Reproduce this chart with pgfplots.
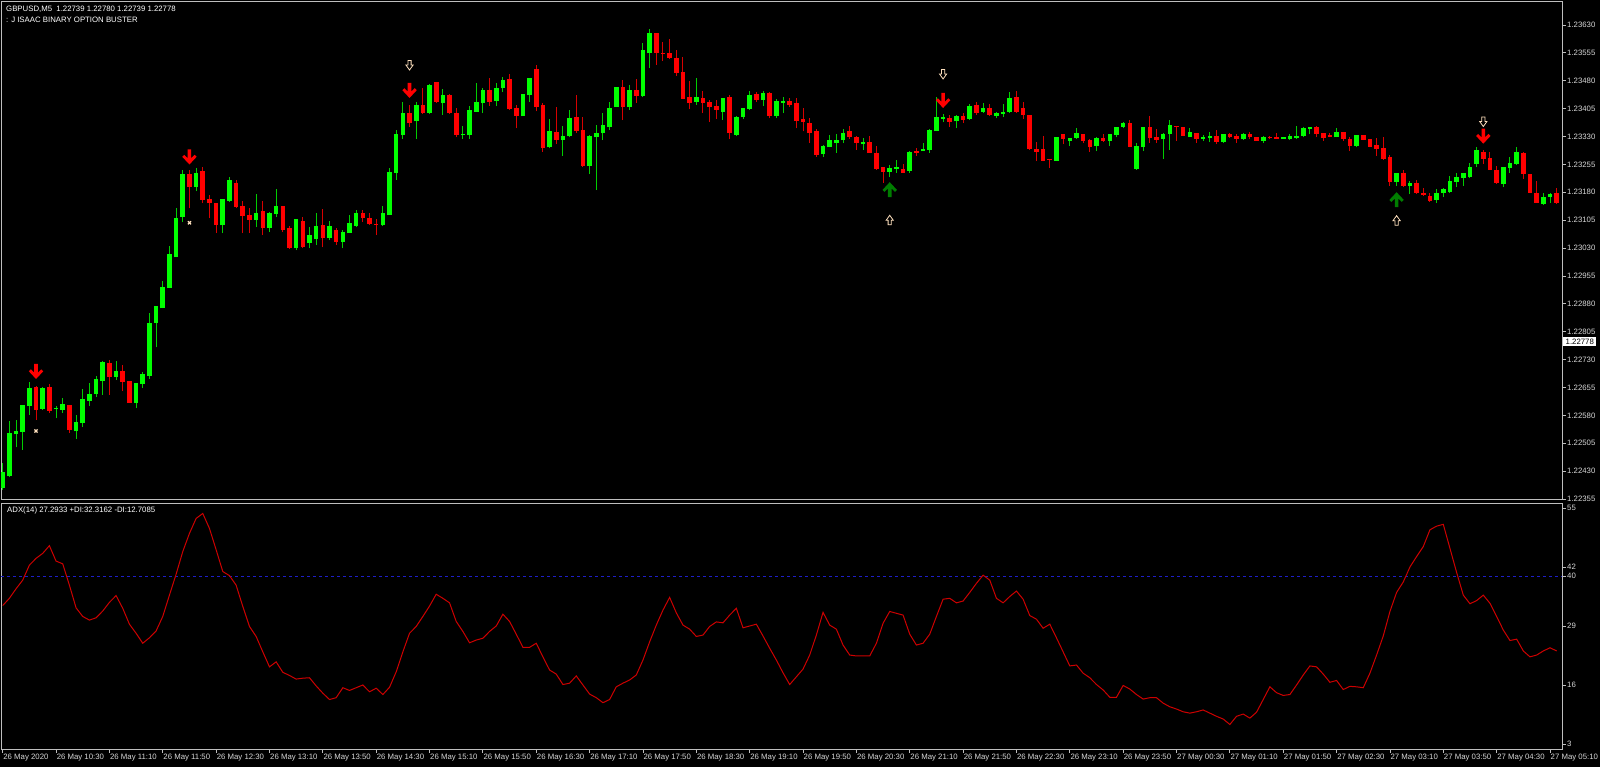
\documentclass[border=0pt]{standalone}
\usepackage{fontspec}
\setmainfont{Liberation Sans}
\usepackage{pgfplots}
\pgfplotsset{compat=1.18}
\usepackage{pgfplotstable}
\definecolor{bull}{RGB}{0,255,0}
\definecolor{bullw}{RGB}{0,205,0}
\definecolor{bear}{RGB}{255,0,0}
\definecolor{bearw}{RGB}{215,0,0}
\definecolor{framec}{RGB}{190,190,190}
\definecolor{txt}{RGB}{215,215,215}
\definecolor{adxc}{RGB}{205,0,0}
\definecolor{lvl}{RGB}{30,30,200}
\definecolor{sigup}{RGB}{0,125,0}
\definecolor{hollow}{RGB}{255,225,190}
\newcommand\mtfont{\fontsize{7.8bp}{11bp}\selectfont}
\pgfdeclareplotmark{dnarrow}{%
 \pgfpathmoveto{\pgfpoint{-1.8bp}{7.5bp}}%
 \pgfpathlineto{\pgfpoint{1.8bp}{7.5bp}}%
 \pgfpathlineto{\pgfpoint{1.8bp}{-1.2bp}}%
 \pgfpathlineto{\pgfpoint{5.2bp}{2.2bp}}%
 \pgfpathlineto{\pgfpoint{7.2bp}{0.2bp}}%
 \pgfpathlineto{\pgfpoint{0bp}{-7.5bp}}%
 \pgfpathlineto{\pgfpoint{-7.2bp}{0.2bp}}%
 \pgfpathlineto{\pgfpoint{-5.2bp}{2.2bp}}%
 \pgfpathlineto{\pgfpoint{-1.8bp}{-1.2bp}}%
 \pgfpathclose\pgfusepathqfill}
\pgfdeclareplotmark{uparrow}{%
 \pgfpathmoveto{\pgfpoint{-1.8bp}{-7.5bp}}%
 \pgfpathlineto{\pgfpoint{1.8bp}{-7.5bp}}%
 \pgfpathlineto{\pgfpoint{1.8bp}{1.2bp}}%
 \pgfpathlineto{\pgfpoint{5.2bp}{-2.2bp}}%
 \pgfpathlineto{\pgfpoint{7.2bp}{-0.2bp}}%
 \pgfpathlineto{\pgfpoint{0bp}{7.5bp}}%
 \pgfpathlineto{\pgfpoint{-7.2bp}{-0.2bp}}%
 \pgfpathlineto{\pgfpoint{-5.2bp}{-2.2bp}}%
 \pgfpathlineto{\pgfpoint{-1.8bp}{1.2bp}}%
 \pgfpathclose\pgfusepathqfill}
\pgfdeclareplotmark{hdn}{%
 \pgfpathmoveto{\pgfpoint{-1.6bp}{5bp}}%
 \pgfpathlineto{\pgfpoint{1.6bp}{5bp}}%
 \pgfpathlineto{\pgfpoint{1.6bp}{0.5bp}}%
 \pgfpathlineto{\pgfpoint{3.6bp}{0.5bp}}%
 \pgfpathlineto{\pgfpoint{0bp}{-4.5bp}}%
 \pgfpathlineto{\pgfpoint{-3.6bp}{0.5bp}}%
 \pgfpathlineto{\pgfpoint{-1.6bp}{0.5bp}}%
 \pgfpathclose\pgfusepathqstroke}
\pgfdeclareplotmark{hup}{%
 \pgfpathmoveto{\pgfpoint{-1.6bp}{-5bp}}%
 \pgfpathlineto{\pgfpoint{1.6bp}{-5bp}}%
 \pgfpathlineto{\pgfpoint{1.6bp}{-0.5bp}}%
 \pgfpathlineto{\pgfpoint{3.6bp}{-0.5bp}}%
 \pgfpathlineto{\pgfpoint{0bp}{4.5bp}}%
 \pgfpathlineto{\pgfpoint{-3.6bp}{-0.5bp}}%
 \pgfpathlineto{\pgfpoint{-1.6bp}{-0.5bp}}%
 \pgfpathclose\pgfusepathqstroke}

\pgfplotstableread{
i o h l c
0 1.22384 1.22452 1.22379 1.22428
1 1.22417 1.22564 1.22414 1.22532
2 1.22529 1.22567 1.22494 1.22537
3 1.22535 1.22608 1.22487 1.22608
4 1.22605 1.22670 1.22581 1.22653
5 1.22656 1.22659 1.22567 1.22594
6 1.22597 1.22656 1.22594 1.22653
7 1.22656 1.22664 1.22586 1.22591
8 1.22597 1.22605 1.22572 1.22599
9 1.22594 1.22626 1.22586 1.22610
10 1.22608 1.22608 1.22532 1.22540
11 1.22537 1.22581 1.22516 1.22562
12 1.22559 1.22651 1.22548 1.22624
13 1.22618 1.22667 1.22605 1.22637
14 1.22637 1.22686 1.22629 1.22678
15 1.22672 1.22726 1.22635 1.22724
16 1.22721 1.22729 1.22635 1.22683
17 1.22683 1.22726 1.22675 1.22699
18 1.22699 1.22716 1.22645 1.22670
19 1.22672 1.22672 1.22613 1.22613
20 1.22613 1.22667 1.22599 1.22667
21 1.22664 1.22697 1.22653 1.22691
22 1.22686 1.22855 1.22678 1.22828
23 1.22828 1.22874 1.22763 1.22874
24 1.22868 1.22941 1.22868 1.22925
25 1.22922 1.23035 1.22922 1.23013
26 1.23005 1.23137 1.23005 1.23110
27 1.23113 1.23240 1.23100 1.23229
28 1.23229 1.23240 1.23137 1.23194
29 1.23194 1.23245 1.23183 1.23232
30 1.23237 1.23248 1.23151 1.23159
31 1.23162 1.23173 1.23110 1.23151
32 1.23151 1.23151 1.23070 1.23092
33 1.23092 1.23162 1.23070 1.23162
34 1.23156 1.23221 1.23154 1.23213
35 1.23205 1.23213 1.23137 1.23140
36 1.23143 1.23156 1.23070 1.23116
37 1.23119 1.23137 1.23070 1.23105
38 1.23105 1.23175 1.23086 1.23124
39 1.23129 1.23156 1.23065 1.23083
40 1.23083 1.23127 1.23073 1.23124
41 1.23121 1.23189 1.23113 1.23143
42 1.23143 1.23143 1.23073 1.23078
43 1.23083 1.23089 1.23027 1.23029
44 1.23029 1.23108 1.23024 1.23108
45 1.23102 1.23113 1.23029 1.23032
46 1.23043 1.23086 1.23029 1.23065
47 1.23054 1.23124 1.23038 1.23089
48 1.23092 1.23135 1.23032 1.23056
49 1.23056 1.23102 1.23051 1.23089
50 1.23078 1.23083 1.23038 1.23046
51 1.23046 1.23078 1.23029 1.23073
52 1.23070 1.23119 1.23070 1.23097
53 1.23089 1.23132 1.23086 1.23124
54 1.23124 1.23132 1.23100 1.23110
55 1.23110 1.23124 1.23092 1.23094
56 1.23094 1.23108 1.23065 1.23092
57 1.23092 1.23143 1.23089 1.23124
58 1.23119 1.23245 1.23119 1.23235
59 1.23232 1.23347 1.23213 1.23336
60 1.23334 1.23423 1.23323 1.23393
61 1.23393 1.23415 1.23355 1.23366
62 1.23371 1.23423 1.23323 1.23415
63 1.23415 1.23460 1.23390 1.23393
64 1.23393 1.23471 1.23390 1.23469
65 1.23477 1.23477 1.23420 1.23423
66 1.23420 1.23458 1.23388 1.23442
67 1.23442 1.23444 1.23390 1.23393
68 1.23393 1.23406 1.23328 1.23334
69 1.23334 1.23358 1.23323 1.23336
70 1.23334 1.23412 1.23323 1.23401
71 1.23396 1.23474 1.23396 1.23423
72 1.23420 1.23460 1.23393 1.23455
73 1.23455 1.23487 1.23412 1.23423
74 1.23425 1.23474 1.23412 1.23460
75 1.23460 1.23490 1.23450 1.23482
76 1.23485 1.23498 1.23401 1.23404
77 1.23406 1.23415 1.23352 1.23385
78 1.23385 1.23444 1.23385 1.23444
79 1.23442 1.23487 1.23423 1.23487
80 1.23512 1.23523 1.23398 1.23409
81 1.23415 1.23420 1.23289 1.23298
82 1.23301 1.23377 1.23298 1.23344
83 1.23342 1.23409 1.23309 1.23320
84 1.23320 1.23358 1.23278 1.23331
85 1.23331 1.23401 1.23328 1.23379
86 1.23382 1.23442 1.23339 1.23344
87 1.23347 1.23382 1.23248 1.23251
88 1.23251 1.23334 1.23229 1.23331
89 1.23328 1.23361 1.23186 1.23339
90 1.23339 1.23393 1.23320 1.23361
91 1.23355 1.23423 1.23347 1.23406
92 1.23409 1.23463 1.23409 1.23463
93 1.23463 1.23482 1.23374 1.23409
94 1.23409 1.23469 1.23401 1.23455
95 1.23455 1.23485 1.23420 1.23439
96 1.23439 1.23581 1.23436 1.23562
97 1.23554 1.23619 1.23514 1.23608
98 1.23608 1.23608 1.23523 1.23554
99 1.23554 1.23584 1.23533 1.23551
100 1.23554 1.23592 1.23538 1.23541
101 1.23541 1.23562 1.23493 1.23501
102 1.23504 1.23543 1.23431 1.23431
103 1.23436 1.23479 1.23404 1.23420
104 1.23423 1.23487 1.23415 1.23436
105 1.23433 1.23452 1.23393 1.23420
106 1.23423 1.23428 1.23369 1.23409
107 1.23412 1.23428 1.23377 1.23401
108 1.23396 1.23433 1.23374 1.23433
109 1.23436 1.23442 1.23323 1.23339
110 1.23334 1.23385 1.23331 1.23382
111 1.23382 1.23406 1.23377 1.23406
112 1.23404 1.23452 1.23401 1.23442
113 1.23444 1.23450 1.23423 1.23428
114 1.23428 1.23452 1.23412 1.23447
115 1.23447 1.23450 1.23379 1.23385
116 1.23385 1.23431 1.23379 1.23425
117 1.23420 1.23436 1.23393 1.23425
118 1.23425 1.23433 1.23409 1.23415
119 1.23420 1.23433 1.23352 1.23371
120 1.23377 1.23406 1.23344 1.23369
121 1.23366 1.23379 1.23312 1.23339
122 1.23344 1.23350 1.23275 1.23281
123 1.23283 1.23307 1.23275 1.23304
124 1.23301 1.23334 1.23301 1.23320
125 1.23312 1.23336 1.23286 1.23320
126 1.23320 1.23350 1.23312 1.23339
127 1.23344 1.23358 1.23323 1.23328
128 1.23328 1.23331 1.23294 1.23312
129 1.23309 1.23326 1.23294 1.23315
130 1.23315 1.23331 1.23286 1.23286
131 1.23286 1.23304 1.23240 1.23243
132 1.23248 1.23248 1.23205 1.23235
133 1.23235 1.23254 1.23221 1.23245
134 1.23243 1.23267 1.23232 1.23248
135 1.23243 1.23256 1.23232 1.23232
136 1.23237 1.23291 1.23232 1.23289
137 1.23291 1.23299 1.23278 1.23286
138 1.23291 1.23312 1.23291 1.23296
139 1.23294 1.23350 1.23286 1.23347
140 1.23344 1.23436 1.23344 1.23382
141 1.23377 1.23390 1.23369 1.23382
142 1.23379 1.23388 1.23355 1.23369
143 1.23371 1.23388 1.23352 1.23385
144 1.23385 1.23393 1.23366 1.23374
145 1.23377 1.23417 1.23374 1.23412
146 1.23415 1.23423 1.23388 1.23393
147 1.23396 1.23420 1.23393 1.23406
148 1.23406 1.23417 1.23385 1.23388
149 1.23385 1.23396 1.23379 1.23393
150 1.23390 1.23417 1.23382 1.23396
151 1.23396 1.23450 1.23393 1.23433
152 1.23436 1.23452 1.23393 1.23396
153 1.23406 1.23423 1.23377 1.23388
154 1.23388 1.23388 1.23294 1.23296
155 1.23296 1.23315 1.23264 1.23289
156 1.23296 1.23331 1.23264 1.23264
157 1.23270 1.23270 1.23245 1.23267
158 1.23264 1.23328 1.23264 1.23328
159 1.23336 1.23336 1.23309 1.23323
160 1.23318 1.23326 1.23304 1.23326
161 1.23326 1.23352 1.23323 1.23339
162 1.23336 1.23336 1.23312 1.23318
163 1.23320 1.23323 1.23289 1.23301
164 1.23304 1.23328 1.23291 1.23326
165 1.23326 1.23336 1.23315 1.23318
166 1.23318 1.23336 1.23304 1.23336
167 1.23334 1.23355 1.23328 1.23355
168 1.23355 1.23369 1.23352 1.23366
169 1.23366 1.23374 1.23301 1.23301
170 1.23243 1.23312 1.23240 1.23304
171 1.23301 1.23355 1.23291 1.23355
172 1.23355 1.23385 1.23312 1.23326
173 1.23328 1.23350 1.23312 1.23320
174 1.23323 1.23339 1.23270 1.23336
175 1.23336 1.23374 1.23294 1.23361
176 1.23358 1.23358 1.23318 1.23355
177 1.23355 1.23355 1.23331 1.23331
178 1.23328 1.23352 1.23328 1.23342
179 1.23339 1.23339 1.23312 1.23323
180 1.23323 1.23334 1.23318 1.23328
181 1.23326 1.23342 1.23315 1.23331
182 1.23331 1.23347 1.23309 1.23315
183 1.23315 1.23336 1.23312 1.23336
184 1.23336 1.23339 1.23326 1.23328
185 1.23331 1.23336 1.23312 1.23323
186 1.23323 1.23339 1.23320 1.23336
187 1.23336 1.23342 1.23323 1.23328
188 1.23328 1.23328 1.23318 1.23318
189 1.23318 1.23331 1.23312 1.23328
190 1.23328 1.23331 1.23323 1.23326
191 1.23328 1.23339 1.23323 1.23323
192 1.23323 1.23328 1.23323 1.23328
193 1.23323 1.23336 1.23320 1.23331
194 1.23326 1.23358 1.23323 1.23331
195 1.23331 1.23355 1.23328 1.23352
196 1.23350 1.23355 1.23336 1.23355
197 1.23355 1.23358 1.23328 1.23336
198 1.23339 1.23339 1.23318 1.23326
199 1.23334 1.23339 1.23328 1.23328
200 1.23328 1.23352 1.23328 1.23342
201 1.23342 1.23342 1.23318 1.23323
202 1.23323 1.23328 1.23291 1.23304
203 1.23304 1.23334 1.23301 1.23334
204 1.23334 1.23334 1.23320 1.23320
205 1.23323 1.23323 1.23301 1.23301
206 1.23307 1.23326 1.23278 1.23296
207 1.23299 1.23328 1.23267 1.23270
208 1.23275 1.23281 1.23197 1.23208
209 1.23208 1.23232 1.23197 1.23232
210 1.23232 1.23240 1.23194 1.23197
211 1.23197 1.23210 1.23175 1.23205
212 1.23205 1.23213 1.23175 1.23178
213 1.23178 1.23191 1.23170 1.23173
214 1.23170 1.23178 1.23154 1.23156
215 1.23159 1.23189 1.23151 1.23178
216 1.23178 1.23191 1.23167 1.23189
217 1.23181 1.23224 1.23178 1.23210
218 1.23208 1.23232 1.23194 1.23221
219 1.23218 1.23232 1.23197 1.23232
220 1.23221 1.23259 1.23218 1.23248
221 1.23256 1.23302 1.23248 1.23294
222 1.23289 1.23294 1.23256 1.23270
223 1.23272 1.23289 1.23240 1.23240
224 1.23240 1.23251 1.23202 1.23205
225 1.23202 1.23248 1.23194 1.23248
226 1.23245 1.23275 1.23232 1.23259
227 1.23256 1.23302 1.23254 1.23289
228 1.23286 1.23289 1.23216 1.23229
229 1.23229 1.23229 1.23178 1.23178
230 1.23178 1.23210 1.23151 1.23151
231 1.23148 1.23178 1.23146 1.23167
232 1.23167 1.23178 1.23151 1.23175
233 1.23178 1.23191 1.23148 1.23151
}\candles

\pgfplotstableread{
i v
0 33.5
1 35.1
2 37.2
3 39.1
4 42.4
5 43.9
6 45.0
7 46.7
8 43.3
9 42.7
10 38.0
11 33.0
12 31.1
13 30.3
14 30.8
15 32.3
16 34.2
17 35.7
18 32.9
19 29.4
20 27.4
21 25.2
22 26.4
23 27.9
24 31.1
25 35.8
26 40.4
27 45.4
28 49.4
29 52.7
30 53.8
31 50.5
32 45.8
33 41.0
34 40.1
35 38.0
36 33.3
37 28.9
38 26.7
39 23.3
40 20.0
41 21.1
42 18.8
43 18.1
44 17.3
45 17.5
46 17.6
47 15.8
48 14.2
49 12.8
50 13.2
51 15.4
52 14.8
53 15.4
54 16.0
55 14.5
56 15.3
57 13.9
58 15.5
59 18.9
60 23.3
61 27.4
62 28.9
63 31.1
64 33.4
65 36.0
66 35.1
67 34.1
68 30.0
69 27.8
70 25.3
71 25.9
72 26.3
73 27.8
74 29.0
75 31.6
76 30.0
77 27.2
78 24.3
79 24.3
80 25.2
81 22.2
82 19.3
83 18.4
84 16.1
85 16.4
86 18.0
87 16.0
88 14.0
89 13.2
90 12.1
91 12.8
92 15.6
93 16.4
94 17.1
95 18.2
96 21.5
97 25.5
98 29.2
99 32.5
100 35.3
101 31.9
102 29.2
103 28.3
104 26.7
105 27.0
106 28.9
107 29.9
108 29.7
109 31.4
110 32.9
111 28.6
112 29.0
113 29.4
114 26.8
115 24.1
116 21.5
117 18.7
118 16.1
119 17.8
120 19.5
121 22.6
122 27.0
123 32.0
124 29.2
125 28.3
126 24.8
127 22.6
128 22.4
129 22.4
130 22.4
131 25.2
132 29.6
133 32.2
134 31.8
135 31.4
136 27.2
137 24.8
138 25.2
139 27.2
140 31.1
141 34.9
142 35.1
143 34.1
144 34.5
145 36.4
146 38.4
147 40.2
148 39.1
149 35.1
150 34.1
151 35.5
152 36.7
153 34.9
154 31.3
155 30.5
156 28.5
157 29.4
158 26.4
159 23.3
160 20.2
161 20.4
162 18.6
163 17.6
164 16.1
165 14.9
166 13.3
167 13.3
168 15.9
169 15.1
170 13.9
171 12.9
172 13.2
173 13.2
174 12.0
175 11.2
176 10.7
177 10.1
178 9.8
179 10.1
180 10.5
181 9.8
182 9.1
183 8.5
184 7.3
185 9.1
186 9.6
187 8.7
188 10.0
189 12.8
190 15.6
191 14.3
192 13.7
193 13.9
194 16.0
195 18.2
196 20.2
197 20.0
198 18.4
199 16.6
200 17.0
201 15.0
202 15.7
203 15.6
204 15.4
205 18.6
206 22.6
207 26.8
208 32.2
209 36.4
210 38.7
211 42.0
212 44.3
213 46.5
214 50.2
215 51.0
216 51.4
217 46.1
218 40.8
219 35.8
220 33.9
221 34.6
222 35.8
223 34.0
224 31.1
225 28.1
226 25.8
227 26.1
228 23.5
229 22.2
230 22.6
231 23.5
232 24.2
233 23.5
}\adxdata

\begin{document}
\begin{tikzpicture}[x=1bp,y=1bp]
\fill[black] (0bp,0bp) rectangle (1600bp,767bp);
\begin{axis}[at={(1bp,267bp)}, anchor=south west, scale only axis,
  width=1561bp, height=498bp,
  xmin=-0.255, xmax=233.8, ymin=1.223523, ymax=1.236919,
  axis line style={draw=framec, line width=1bp},
  xtick=\empty,
  ytick={1.22355,1.22430,1.22505,1.22580,1.22655,1.22730,1.22805,1.22880,1.22955,1.23030,1.23105,1.23180,1.23255,1.23330,1.23405,1.23480,1.23555,1.23630},
  yticklabels={1.22355,1.22430,1.22505,1.22580,1.22655,1.22730,1.22805,1.22880,1.22955,1.23030,1.23105,1.23180,1.23255,1.23330,1.23405,1.23480,1.23555,1.23630},
  ytick pos=right, yticklabel pos=right, tick align=outside,
  major tick length=3.5bp,
  tick style={draw=framec, line width=0.8bp},
  yticklabel style={font=\mtfont, text=txt, inner sep=0pt, anchor=west, xshift=1.5bp},
  clip=true]
\pgfplotsinvokeforeach{0,...,233}{%
  \pgfplotstablegetelem{#1}{o}\of\candles\let\cO\pgfplotsretval
  \pgfplotstablegetelem{#1}{h}\of\candles\let\cH\pgfplotsretval
  \pgfplotstablegetelem{#1}{l}\of\candles\let\cL\pgfplotsretval
  \pgfplotstablegetelem{#1}{c}\of\candles\let\cC\pgfplotsretval
  \ifdim\cC pt<\cO pt \def\bc{bear}\def\wc{bearw}\else\def\bc{bull}\def\wc{bullw}\fi
  \edef\tmp{\noexpand\addplot[draw=\wc, line width=1bp, forget plot] coordinates {(#1,\cL) (#1,\cH)};%
    \noexpand\addplot[draw=\bc, line width=4.6bp, forget plot] coordinates {(#1,\cO) (#1,\cC)};}%
  \tmp
}
% signals
\addplot[only marks, mark=dnarrow, color=bear, mark options={fill=bear, draw=none}]
  coordinates {(5,1.22698) (28,1.23275) (61,1.23454) (141,1.23427) (222,1.23331)};
\addplot[only marks, mark=uparrow, color=sigup, mark options={fill=sigup, draw=none}]
  coordinates {(133,1.23187) (209,1.23160)};
\addplot[only marks, mark=hdn, color=hollow, mark options={draw=hollow, line width=0.8bp}]
  coordinates {(61,1.23521) (141,1.23497) (222,1.23369)};
\addplot[only marks, mark=hup, color=hollow, mark options={draw=hollow, line width=0.8bp}]
  coordinates {(133,1.23106) (209,1.23105)};
\addplot[only marks, mark=x, color=hollow, mark size=2.2bp, mark options={line width=1.2bp}]
  coordinates {(5,1.22538) (28,1.23098)};
\coordinate (lastp) at (axis cs:233.8,1.22778);
\node[anchor=north west, inner sep=0pt, xshift=5bp, yshift=-4bp, align=left,
  text=white, font=\mtfont] at (rel axis cs:0,1)
  {GBPUSD,M5\ \ 1.22739 1.22780 1.22739 1.22778\\: J ISAAC BINARY OPTION BUSTER};
\end{axis}
\node[anchor=west, fill=white, text=black, inner xsep=2.5bp, inner ysep=1.5bp,
  font=\mtfont, xshift=1bp] at (lastp) {1.22778};

\begin{axis}[at={(1bp,18bp)}, anchor=south west, scale only axis,
  width=1561bp, height=246bp,
  xmin=-0.255, xmax=233.8, ymin=1.898, ymax=56.10,
  axis line style={draw=framec, line width=1bp},
  xtick={0,8,...,232},
  xticklabels={26 May 2020, 26 May 10:30, 26 May 11:10, 26 May 11:50, 26 May 12:30, 26 May 13:10, 26 May 13:50, 26 May 14:30, 26 May 15:10, 26 May 15:50, 26 May 16:30, 26 May 17:10, 26 May 17:50, 26 May 18:30, 26 May 19:10, 26 May 19:50, 26 May 20:30, 26 May 21:10, 26 May 21:50, 26 May 22:30, 26 May 23:10, 26 May 23:50, 27 May 00:30, 27 May 01:10, 27 May 01:50, 27 May 02:30, 27 May 03:10, 27 May 03:50, 27 May 04:30, 27 May 05:10},
  xtick pos=bottom, xticklabel pos=bottom,
  ytick={3,16,29,40,42,55},
  yticklabels={3,16,29,40,42,55},
  ytick pos=right, yticklabel pos=right, tick align=outside,
  major tick length=3.5bp,
  tick style={draw=framec, line width=0.8bp},
  yticklabel style={font=\mtfont, text=txt, inner sep=0pt, anchor=west, xshift=1.5bp},
  xticklabel style={font=\mtfont, text=txt, inner sep=0pt, anchor=west, xshift=0.5bp, yshift=-5bp},
  clip=true]
\addplot[lvl, dash pattern=on 3bp off 3bp, line width=0.9bp, forget plot]
  coordinates {(-0.255,40) (233.8,40)};
\addplot[adxc, line width=1bp, mark=none] table[x=i, y=v] {\adxdata};
\node[anchor=north west, inner sep=0pt, xshift=6bp, yshift=-4bp,
  text=white, font=\mtfont] at (rel axis cs:0,1)
  {ADX(14) 27.2933 +DI:32.3162 -DI:12.7085};
\end{axis}
\pgfresetboundingbox
\path[use as bounding box] (0bp,0bp) rectangle (1600bp,767bp);
\end{tikzpicture}
\end{document}
